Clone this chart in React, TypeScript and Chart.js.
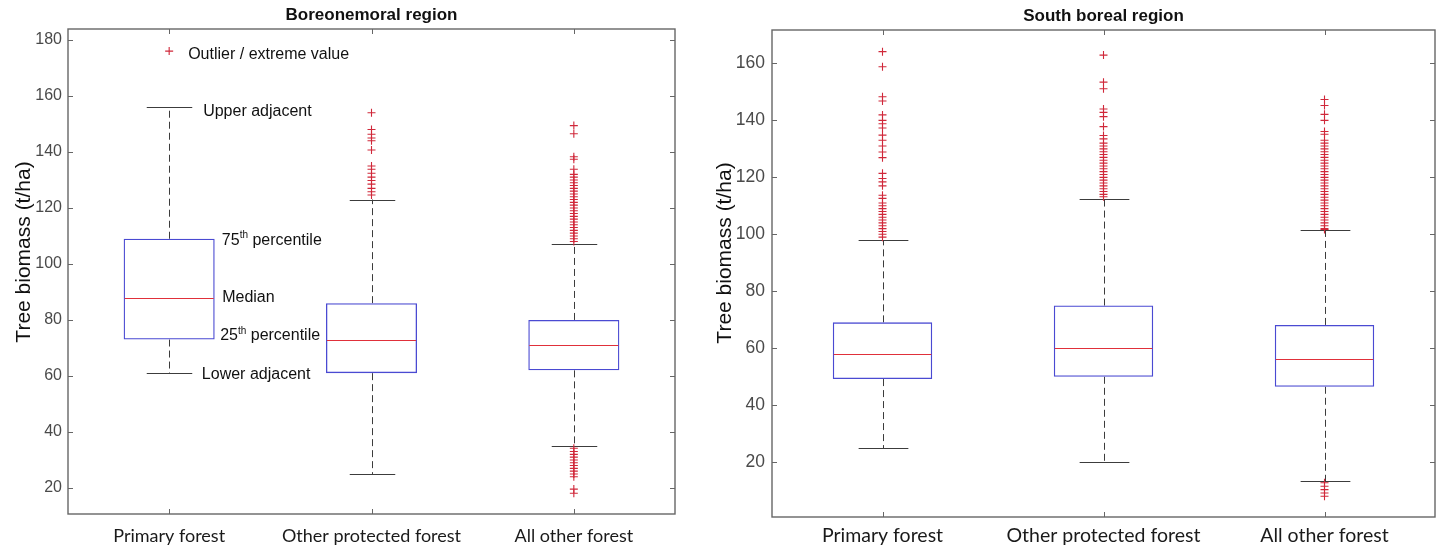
import { useEffect, useRef } from "react";
import { Chart, registerables } from "chart.js";

Chart.register(...registerables);

// ---------------- DATA ----------------
const categories = ["Primary forest", "Other protected forest", "All other forest"];
const yAxisTitle = "Tree biomass (t/ha)";

// Boreonemoral region
const boreoTitle = "Boreonemoral region";
const boreoLowerAdjacent = [61, 25, 35];
const boreoQ1 = [73, 61, 62];
const boreoMedian = [88, 73, 71];
const boreoQ3 = [109, 86, 80];
const boreoUpperAdjacent = [156, 123, 107];
const boreoOutliersPrimary: number[] = [];
const boreoOutliersProtected = [154, 148, 146.3, 145, 144, 140.7, 135, 133.8, 132.4, 131, 129.8, 128.5, 127, 125.8, 124.6];
const boreoOutliersOther = [
  149.4, 146.5, 138.3, 137.4, 133.8, 132, 131, 130, 129, 128, 127, 126, 125, 124, 123, 122, 121, 120, 119, 118,
  117, 116, 115, 114, 113, 112, 111, 110, 109, 108, 34.2, 33, 32, 31, 30, 29, 28, 27, 26, 25, 24, 19.6, 18.1,
];
const boreoTicks = [20, 40, 60, 80, 100, 120, 140, 160, 180];
const boreoYMin = 10.7;
const boreoYMax = 183.9;

// Key shown in the left panel
const keyMarkerValue = 176;
const keyOutlierText = "Outlier / extreme value";
const keyUpperText = "Upper adjacent";
const keyQ3Text = ["75", "th", " percentile"];
const keyMedianText = "Median";
const keyQ1Text = ["25", "th", " percentile"];
const keyLowerText = "Lower adjacent";

// South boreal region
const southTitle = "South boreal region";
const southLowerAdjacent = [25, 20, 13.3];
const southQ1 = [49.2, 50, 46.5];
const southMedian = [58.1, 60, 56.3];
const southQ3 = [69.1, 75, 68.2];
const southUpperAdjacent = [98, 112.3, 101.4];
const southOutliersPrimary = [
  164.1, 158.8, 148.3, 146.8, 141.9, 140, 138.8, 137.3, 134.8, 133, 131, 128.9, 126.9, 121.4, 119.6, 118.4, 117,
  113.7, 112.6, 111, 110, 109, 108, 107, 106, 105, 104, 103, 102, 101, 100, 99,
];
const southOutliersProtected = [
  162.9, 153.4, 151.1, 144, 142.8, 141.3, 137.8, 134.7, 133.5, 132, 131, 130, 129, 128, 127, 126, 125, 124, 123,
  122, 121, 120, 119, 118, 117, 116, 115, 114, 113.2,
];
const southOutliersOther = [
  147.3, 145.2, 142.1, 140, 136.1, 135.1, 133, 132, 131, 130, 129, 128, 127, 126, 125, 124, 123, 122, 121, 120,
  119, 118, 117, 116, 115, 114, 113, 112, 111, 110, 109, 108, 107, 106, 105, 104, 103, 102, 101.7, 12.8, 11.6,
  10.4, 9.2, 8.1,
];
const southTicks = [20, 40, 60, 80, 100, 120, 140, 160];
const southYMin = 0.8;
const southYMax = 171.7;

// ---------------- STYLE ----------------
const AXIS_FONT = "Arial, 'Liberation Sans', Helvetica, sans-serif";
const CAT_FONT = "Lato, 'Open Sans', sans-serif";
const BOX_BLUE = "#4a4ad2";
const MEDIAN_RED = "#e0303a";
const OUT_RED = "#d0283a";
const WHISKER = "#3c3c3c";
const FRAME = "#666666";

type Panel = {
  title: string;
  lower: number[];
  q1: number[];
  median: number[];
  q3: number[];
  upper: number[];
  outliers: number[][];
  ticks: number[];
  yMin: number;
  yMax: number;
};

type Look = {
  width: number;
  yAxisWidth: number;
  xAxisHeight: number;
  padRight: number;
  titleSize: number;
  titlePadTop: number;
  titlePadBottom: number;
  tickSize: number;
  tickPad: number;
  catSize: number;
  catPad: number;
  yTitleSize: number;
  yTitleX: number;
  yTitleY: number;
  withKey: boolean;
};

const boreoPanel: Panel = {
  title: boreoTitle,
  lower: boreoLowerAdjacent,
  q1: boreoQ1,
  median: boreoMedian,
  q3: boreoQ3,
  upper: boreoUpperAdjacent,
  outliers: [boreoOutliersPrimary, boreoOutliersProtected, boreoOutliersOther],
  ticks: boreoTicks,
  yMin: boreoYMin,
  yMax: boreoYMax,
};

const southPanel: Panel = {
  title: southTitle,
  lower: southLowerAdjacent,
  q1: southQ1,
  median: southMedian,
  q3: southQ3,
  upper: southUpperAdjacent,
  outliers: [southOutliersPrimary, southOutliersProtected, southOutliersOther],
  ticks: southTicks,
  yMin: southYMin,
  yMax: southYMax,
};

const leftLook: Look = {
  width: 700,
  yAxisWidth: 68,
  xAxisHeight: 32,
  padRight: 25,
  titleSize: 17,
  titlePadTop: 5.5,
  titlePadBottom: 3.1,
  tickSize: 16,
  tickPad: 6,
  catSize: 18,
  catPad: 11,
  yTitleSize: 21,
  yTitleX: 24,
  yTitleY: 252,
  withKey: true,
};

const rightLook: Look = {
  width: 742,
  yAxisWidth: 72,
  xAxisHeight: 29,
  padRight: 7,
  titleSize: 17,
  titlePadTop: 6,
  titlePadBottom: 3.6,
  tickSize: 17.5,
  tickPad: 7,
  catSize: 19.5,
  catPad: 7,
  yTitleSize: 21,
  yTitleX: 25,
  yTitleY: 253,
  withKey: false,
};

function drawKey(chart: any, p: Panel) {
  const ctx = chart.ctx;
  const x = chart.scales.x;
  const y = chart.scales.y;
  const px = x.getPixelForValue(0);
  ctx.save();
  ctx.fillStyle = "#111";
  ctx.textAlign = "left";
  ctx.textBaseline = "middle";
  const font = `16px ${AXIS_FONT}`;
  const supFont = `10px ${AXIS_FONT}`;
  const plain = (text: string, dx: number, value: number, dy: number) => {
    ctx.font = font;
    ctx.fillText(text, px + dx, y.getPixelForValue(value) + dy);
  };
  const sup = (parts: string[], dx: number, value: number, dy: number) => {
    const yy = y.getPixelForValue(value) + dy;
    let cx = px + dx;
    ctx.font = font;
    ctx.fillText(parts[0], cx, yy);
    cx += ctx.measureText(parts[0]).width;
    ctx.font = supFont;
    ctx.fillText(parts[1], cx, yy - 5);
    cx += ctx.measureText(parts[1]).width;
    ctx.font = font;
    ctx.fillText(parts[2], cx, yy);
  };
  plain(keyOutlierText, 19, keyMarkerValue, 3.5);
  plain(keyUpperText, 34, p.upper[0], 4);
  sup(keyQ3Text, 52.7, p.q3[0], 1.5);
  plain(keyMedianText, 53, p.median[0], 0.5);
  sup(keyQ1Text, 51, p.q1[0], -3.5);
  plain(keyLowerText, 32.7, p.lower[0], 1.3);
  ctx.restore();
}

function makePlugin(p: Panel, L: Look) {
  return {
    id: "boxExtras",
    beforeDatasetsDraw(chart: any) {
      const ctx = chart.ctx;
      const x = chart.scales.x;
      const y = chart.scales.y;
      const meta = chart.getDatasetMeta(0);
      ctx.save();
      ctx.strokeStyle = WHISKER;
      ctx.lineWidth = 1;
      categories.forEach((_, i) => {
        const px = Math.round(x.getPixelForValue(i)) + 0.5;
        const w = meta.data[i].width as number;
        const capHalf = w / 4;
        const yq3 = y.getPixelForValue(p.q3[i]);
        const yup = y.getPixelForValue(p.upper[i]);
        const yq1 = y.getPixelForValue(p.q1[i]);
        const ylo = y.getPixelForValue(p.lower[i]);
        ctx.setLineDash([7, 4]);
        ctx.beginPath();
        ctx.moveTo(px, yq3);
        ctx.lineTo(px, yup);
        ctx.moveTo(px, yq1);
        ctx.lineTo(px, ylo);
        ctx.stroke();
        ctx.setLineDash([]);
        ctx.beginPath();
        const yu = Math.round(yup) + 0.5;
        const yl = Math.round(ylo) + 0.5;
        ctx.moveTo(px - capHalf, yu);
        ctx.lineTo(px + capHalf, yu);
        ctx.moveTo(px - capHalf, yl);
        ctx.lineTo(px + capHalf, yl);
        ctx.stroke();
      });
      ctx.restore();
    },
    afterDatasetsDraw(chart: any) {
      const ctx = chart.ctx;
      const x = chart.scales.x;
      const y = chart.scales.y;
      const area = chart.chartArea;
      const meta = chart.getDatasetMeta(0);
      ctx.save();
      // medians
      ctx.strokeStyle = MEDIAN_RED;
      ctx.lineWidth = 1.2;
      categories.forEach((_, i) => {
        const px = x.getPixelForValue(i);
        const w = meta.data[i].width as number;
        const ym = Math.round(y.getPixelForValue(p.median[i])) + 0.5;
        ctx.beginPath();
        ctx.moveTo(px - w / 2 + 1, ym);
        ctx.lineTo(px + w / 2 - 1, ym);
        ctx.stroke();
      });
      // frame
      ctx.strokeStyle = FRAME;
      ctx.lineWidth = 1.4;
      ctx.strokeRect(area.left, area.top, area.right - area.left, area.bottom - area.top);
      // inward ticks
      ctx.lineWidth = 1;
      ctx.beginPath();
      p.ticks.forEach((v) => {
        const py = Math.round(y.getPixelForValue(v)) + 0.5;
        ctx.moveTo(area.left, py);
        ctx.lineTo(area.left + 5, py);
        ctx.moveTo(area.right, py);
        ctx.lineTo(area.right - 5, py);
      });
      categories.forEach((_, i) => {
        const px = Math.round(x.getPixelForValue(i)) + 0.5;
        ctx.moveTo(px, area.bottom);
        ctx.lineTo(px, area.bottom - 5);
        ctx.moveTo(px, area.top);
        ctx.lineTo(px, area.top + 5);
      });
      ctx.stroke();
      // y axis title
      ctx.translate(L.yTitleX, L.yTitleY);
      ctx.rotate(-Math.PI / 2);
      ctx.font = `${L.yTitleSize}px ${AXIS_FONT}`;
      ctx.fillStyle = "#111";
      ctx.textAlign = "center";
      ctx.textBaseline = "middle";
      ctx.fillText(yAxisTitle, 0, 0);
      ctx.restore();
      if (L.withKey) drawKey(chart, p);
    },
  };
}

function makeChart(canvas: HTMLCanvasElement, p: Panel, L: Look) {
  const outlierPoints = p.outliers.flatMap((arr, i) => arr.map((v) => ({ x: categories[i], y: v })));
  const datasets: any[] = [
    {
      type: "bar",
      data: categories.map((_, i) => [p.q1[i], p.q3[i]]),
      backgroundColor: "rgba(0,0,0,0)",
      borderColor: BOX_BLUE,
      borderWidth: 1.3,
      borderSkipped: false,
      barPercentage: 0.45,
      categoryPercentage: 1,
    },
    {
      type: "scatter",
      data: outlierPoints,
      pointStyle: "cross",
      pointRadius: 4,
      pointBorderColor: OUT_RED,
      pointBorderWidth: 1.1,
      borderColor: OUT_RED,
    },
  ];
  if (L.withKey) {
    datasets.push({
      type: "scatter",
      data: [{ x: categories[0], y: keyMarkerValue }],
      pointStyle: "cross",
      pointRadius: 4,
      pointBorderColor: OUT_RED,
      pointBorderWidth: 1.1,
      borderColor: OUT_RED,
    });
  }
  return new Chart(canvas, {
    type: "bar",
    data: { labels: categories, datasets },
    options: {
      responsive: false,
      animation: false,
      devicePixelRatio: 1,
      events: [],
      layout: { padding: { left: 0, right: L.padRight, top: 0, bottom: 0 } },
      plugins: {
        legend: { display: false },
        tooltip: { enabled: false },
        title: {
          display: true,
          text: p.title,
          fullSize: false,
          color: "#111",
          font: { family: AXIS_FONT, size: L.titleSize, weight: "bold", lineHeight: 1.2 },
          padding: { top: L.titlePadTop, bottom: L.titlePadBottom },
        },
      },
      scales: {
        x: {
          type: "category",
          offset: true,
          grid: { display: false, drawTicks: false },
          border: { display: false },
          ticks: {
            color: "#1a1a1a",
            font: { family: CAT_FONT, size: L.catSize },
            padding: L.catPad,
            maxRotation: 0,
            autoSkip: false,
          },
          afterFit: (s: any) => {
            s.height = L.xAxisHeight;
          },
        },
        y: {
          type: "linear",
          min: p.yMin,
          max: p.yMax,
          grid: { display: false, drawTicks: false },
          border: { display: false },
          ticks: {
            color: "#4a4a4a",
            font: { family: AXIS_FONT, size: L.tickSize },
            padding: L.tickPad,
          },
          afterBuildTicks: (s: any) => {
            s.ticks = p.ticks.map((v) => ({ value: v }));
          },
          afterFit: (s: any) => {
            s.width = L.yAxisWidth;
          },
        },
      },
    } as any,
    plugins: [makePlugin(p, L)],
  } as any);
}

function Panel({ panel, look, left }: { panel: Panel; look: Look; left: number }) {
  const ref = useRef<HTMLCanvasElement | null>(null);
  useEffect(() => {
    if (!ref.current) return;
    const chart = makeChart(ref.current, panel, look);
    return () => chart.destroy();
  }, [panel, look]);
  return (
    <canvas
      ref={ref}
      width={look.width}
      height={546}
      style={{ position: "absolute", left, top: 0, width: look.width, height: 546 }}
    />
  );
}

export default function App() {
  return (
    <div style={{ position: "absolute", left: 0, top: 0, width: 1442, height: 546, background: "#fff", overflow: "hidden" }}>
      <Panel panel={boreoPanel} look={leftLook} left={0} />
      <Panel panel={southPanel} look={rightLook} left={700} />
    </div>
  );
}
